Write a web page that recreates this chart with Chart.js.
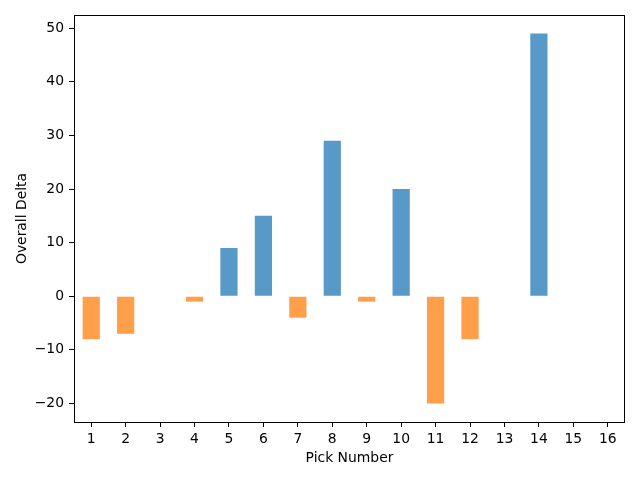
<!DOCTYPE html>
<html>
<head>
<meta charset="utf-8">
<script src="https://cdn.jsdelivr.net/npm/chart.js@4"></script>
<style>
html,body{margin:0;padding:0;background:#fff;}
#wrap{width:640px;height:480px;}
</style>
</head>
<body>
<div id="wrap"><canvas id="c" width="640" height="480"></canvas></div>
<script>
const picks = ['1','2','3','4','5','6','7','8','9','10','11','12','13','14','15','16'];
const deltas = [-8, -7, 0, -1, 9, 15, -4, 29, -1, 20, -20, -8, 0, 49, 0, 0];
const yTicks = [-20, -10, 0, 10, 20, 30, 40, 50];
const yMin = -23.45, yMax = 52.45;

const POS = 'rgba(31,119,180,0.75)';
const NEG = 'rgba(255,127,14,0.75)';
const FONT = {family: 'DejaVu Sans', size: 13.9};

const framePlugin = {
  id: 'frame',
  afterDraw(chart) {
    const a = chart.chartArea, ctx = chart.ctx;
    ctx.save();
    ctx.strokeStyle = '#000';
    ctx.lineWidth = 1;
    ctx.strokeRect(Math.round(a.left) + 0.5, Math.round(a.top) + 0.5,
                   Math.round(a.right - a.left) - 1, Math.round(a.bottom - a.top));
    ctx.restore();
  }
};

new Chart(document.getElementById('c'), {
  type: 'bar',
  data: {
    labels: picks,
    datasets: [{
      data: deltas,
      backgroundColor: deltas.map(v => v >= 0 ? POS : NEG),
      borderWidth: 0,
      borderSkipped: false,
      barPercentage: 0.5,
      categoryPercentage: 1.0
    }]
  },
  options: {
    responsive: false,
    animation: false,
    devicePixelRatio: 1,
    layout: {padding: {left: 0, right: 15, top: 15, bottom: 0}},
    plugins: {legend: {display: false}, tooltip: {enabled: false}},
    scales: {
      x: {
        type: 'category',
        offset: true,
        grid: {display: true, drawOnChartArea: false, drawTicks: true, tickLength: 5, color: '#000', offset: false},
        border: {display: false},
        ticks: {color: '#000', font: FONT, padding: 4, maxRotation: 0, autoSkip: false},
        title: {display: true, text: 'Pick Number', color: '#000', font: FONT, padding: {top: 2, bottom: 13}},
        afterFit(s) { s.height = 58; }
      },
      y: {
        type: 'linear',
        min: yMin, max: yMax,
        grid: {display: true, drawOnChartArea: false, drawTicks: true, tickLength: 5, color: '#000'},
        border: {display: false},
        ticks: {color: '#000', font: FONT, padding: 5,
          callback: v => (v < 0 ? '\u2212' + Math.abs(v) : String(v))},
        afterBuildTicks(s) { s.ticks = yTicks.map(v => ({value: v})); },
        title: {display: true, text: 'Overall Delta', color: '#000', font: FONT, padding: {top: 14, bottom: 2}},
        afterFit(s) { s.width = 74; }
      }
    }
  },
  plugins: [framePlugin]
});
</script>
</body>
</html>
